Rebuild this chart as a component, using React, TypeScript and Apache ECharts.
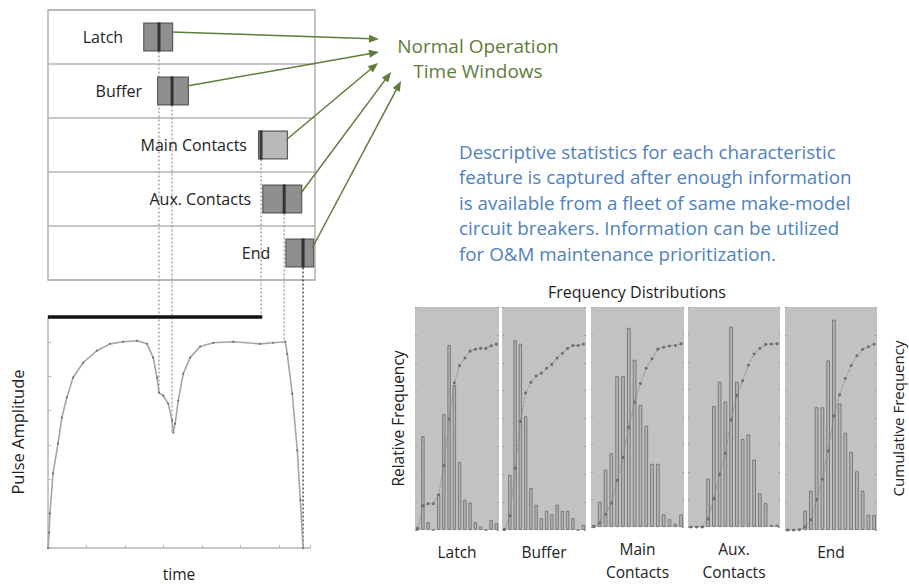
import React, { useEffect, useRef } from 'react';
import * as echarts from 'echarts';

// ---- Time-window table (top left) ----
const features = ['Latch', 'Buffer', 'Main Contacts', 'Aux. Contacts', 'End'];
const windowLow = [2.47, 2.83, 5.45, 5.56, 6.16];
const windowHigh = [3.25, 3.66, 6.23, 6.6, 6.91];
const windowMedian = [2.88, 3.22, 5.53, 6.13, 6.62];
// amplitude at which each dotted connector meets the pulse plot
const connectorEndAmp = [4.5, 3.4, 6.72, 6.0, 0];

// ---- Pulse trace ----
const pulseTime = [0, 0.03, 0.05, 0.13, 0.26, 0.36, 0.49, 0.65, 0.91, 1.27, 1.61, 1.95, 2.31, 2.57, 2.73, 2.83, 2.88, 2.99, 3.12, 3.22, 3.25, 3.3, 3.38, 3.51, 3.69, 3.95, 4.29, 4.81, 5.51, 5.84, 6.16, 6.21, 6.34, 6.47, 6.55, 6.62];
const pulseAmp = [0, 0.45, 1.01, 2.17, 3.04, 3.8, 4.38, 4.96, 5.39, 5.74, 5.94, 6.0, 6.03, 5.94, 5.54, 4.96, 4.52, 4.43, 4.2, 3.71, 3.36, 3.62, 4.29, 5.07, 5.54, 5.86, 5.97, 6.0, 5.94, 5.97, 6.0, 5.65, 4.49, 2.84, 1.39, 0];
const contactBarTime = [0, 5.56];
const contactBarAmp = [6.72, 6.72];

// ---- Frequency distributions ----
const bins = ['1', '2', '3', '4', '5', '6', '7', '8', '9', '10', '11', '12', '13', '14', '15', '16'];
const latchFreq = [1.5, 42, 3.5, 0, 16, 52, 83, 65, 30.5, 13.5, 12.3, 3.5, 1.5, 0, 4.5, 3];
const bufferFreq = [0.8, 24.8, 85, 83.5, 51, 18.8, 11.3, 5.3, 8.6, 7, 11.3, 8.6, 8.6, 5.3, 0, 2.3];
const mainFreq = [0.8, 11.4, 26, 33.5, 68.5, 68.5, 90.5, 76, 55.5, 46, 28.7, 28.7, 5.7, 3.5, 1.5, 5.7];
const auxFreq = [0, 0, 0, 22, 55, 66, 57, 91, 66, 40, 42, 30.6, 15.3, 10.8, 1, 1];
const endFreq = [0, 0, 0.5, 8.6, 17.6, 55, 55, 76, 94.3, 56.7, 43.6, 35, 26.3, 17.6, 6.8, 6.8];
const histNames = ['Latch', 'Buffer', 'Main\nContacts', 'Aux.\nContacts', 'End'];
const histSeries = [latchFreq, bufferFreq, mainFreq, auxFreq, endFreq];

const paragraph = [
  'Descriptive statistics for each characteristic',
  'feature is captured after enough information',
  'is available from a fleet of same make-model',
  'circuit breakers. Information can be utilized',
  'for O&M maintenance prioritization.',
];

const FONT = '"Open Sans", Lato, sans-serif';

export default function App() {
  const ref = useRef<HTMLDivElement>(null);
  useEffect(() => {
    if (!ref.current) return;
    const chart = echarts.init(ref.current, null, { renderer: 'svg' });

    const panels = [
      { left: 415, width: 84 },
      { left: 502, width: 84 },
      { left: 591, width: 93 },
      { left: 688, width: 92 },
      { left: 785, width: 92 },
    ];
    const histTop = 307;
    const histHeight = 223;
    const labelGaps = [20, 15, 11, 11, 15];

    const grids: any[] = [
      { left: 48, top: 10, width: 267, height: 270, show: true, borderColor: '#b3b3b3', borderWidth: 1.5, backgroundColor: 'transparent' },
      { left: 48, top: 316, width: 262, height: 232 },
    ];
    const xAxes: any[] = [
      { gridIndex: 0, type: 'value', min: 0, max: 6.93, show: false },
      {
        gridIndex: 1, type: 'value', min: 0, max: 6.8, interval: 1,
        axisLine: { show: true, lineStyle: { color: '#b5b5b5', width: 1.5 } },
        axisTick: { show: true, inside: true, length: 3, lineStyle: { color: '#b5b5b5' } },
        axisLabel: { show: false }, splitLine: { show: false },
        name: 'time', nameLocation: 'middle', nameGap: 18,
        nameTextStyle: { fontSize: 15.5, color: '#222', fontFamily: FONT },
      },
    ];
    const yAxes: any[] = [
      {
        gridIndex: 0, type: 'category', data: features, inverse: true,
        axisLine: { show: false }, axisTick: { show: false }, axisLabel: { show: false },
        splitLine: { show: true, lineStyle: { color: '#b3b3b3', width: 1.5 } },
      },
      {
        gridIndex: 1, type: 'value', min: 0, max: 6.75, interval: 1,
        axisLine: { show: true, lineStyle: { color: '#b5b5b5', width: 1.5 } },
        axisTick: { show: true, inside: true, length: 3, lineStyle: { color: '#b5b5b5' } },
        axisLabel: { show: false }, splitLine: { show: false },
        name: 'Pulse Amplitude', nameLocation: 'middle', nameGap: 22,
        nameTextStyle: { fontSize: 16.5, color: '#222', fontFamily: FONT },
      },
    ];
    const series: any[] = [
      {
        type: 'bar', xAxisIndex: 0, yAxisIndex: 0, stack: 'w', data: windowLow,
        barWidth: 29, itemStyle: { color: 'rgba(0,0,0,0)' }, silent: true,
      },
      {
        type: 'bar', xAxisIndex: 0, yAxisIndex: 0, stack: 'w',
        data: windowHigh.map((h, i) => ({
          value: +(h - windowLow[i]).toFixed(3),
          itemStyle: { color: i === 2 ? '#b9b9b9' : '#8f8f8f' },
          label: { distance: labelGaps[i] },
        })),
        barWidth: 29,
        itemStyle: { borderColor: '#5a5a5a', borderWidth: 1.2 },
        label: {
          show: true, position: 'left', formatter: (p: any) => p.name,
          fontSize: 16, color: '#222', fontFamily: FONT,
        },
      },
      {
        type: 'scatter', xAxisIndex: 0, yAxisIndex: 0,
        data: windowMedian.map((m, i) => [m, i]),
        symbol: 'rect', symbolSize: [3, 29], itemStyle: { color: '#1a1a1a' }, z: 5,
      },
      {
        type: 'line', xAxisIndex: 1, yAxisIndex: 1,
        data: pulseTime.map((t, i) => [t, pulseAmp[i]]),
        symbol: 'circle', symbolSize: 2, showSymbol: true,
        lineStyle: { color: '#a5a5a5', width: 1.6 }, itemStyle: { color: '#707070' },
      },
      {
        type: 'line', xAxisIndex: 1, yAxisIndex: 1, clip: false,
        data: contactBarTime.map((t, i) => [t, contactBarAmp[i]]),
        symbol: 'none', lineStyle: { color: '#111', width: 3.5 },
      },
    ];

    panels.forEach((p, k) => {
      grids.push({ left: p.left, top: histTop, width: p.width, height: histHeight, show: true, backgroundColor: '#c2c2c2', borderWidth: 0 });
      xAxes.push({
        gridIndex: k + 2, type: 'category', data: bins,
        axisLine: { show: false }, axisTick: { show: false }, axisLabel: { show: false },
        name: histNames[k], nameLocation: 'middle', nameGap: 10,
        nameTextStyle: { fontSize: 15.5, color: '#222', lineHeight: 23, fontFamily: FONT },
      });
      yAxes.push({
        gridIndex: k + 2, type: 'value', min: 0, max: 100, interval: 12.5,
        axisLine: { show: false }, axisLabel: { show: false }, splitLine: { show: false },
        axisTick: { show: true, inside: true, length: 2, lineStyle: { color: '#a0a0a0' } },
        ...(k === 0 ? {
          name: 'Relative Frequency', nameLocation: 'middle', nameGap: 9,
          nameTextStyle: { fontSize: 15.5, color: '#222', fontFamily: FONT },
        } : {}),
      });
      yAxes.push({
        gridIndex: k + 2, type: 'value', position: 'right', min: 0, max: 120, interval: 15,
        axisLine: { show: false }, axisLabel: { show: false }, splitLine: { show: false },
        axisTick: { show: true, inside: true, length: 2, lineStyle: { color: '#a0a0a0' } },
        ...(k === 4 ? {
          name: 'Cumulative Frequency', nameLocation: 'middle', nameGap: 13, nameRotate: 90,
          nameTextStyle: { fontSize: 15, color: '#222', fontFamily: FONT },
        } : {}),
      });
      const freq = histSeries[k];
      const total = freq.reduce((a, b) => a + b, 0);
      let run = 0;
      const cum = freq.map((v) => { run += v; return +(run / total * 100).toFixed(2); });
      series.push({
        type: 'bar', xAxisIndex: k + 2, yAxisIndex: 2 + 2 * k, data: freq,
        barWidth: '62%', itemStyle: { color: '#b4b4b4', borderColor: '#6a6a6a', borderWidth: 0.8 },
      });
      series.push({
        type: 'line', xAxisIndex: k + 2, yAxisIndex: 3 + 2 * k, data: cum,
        symbol: 'circle', symbolSize: 3, showSymbol: true,
        lineStyle: { color: '#8a8a8a', width: 0.8, type: [3, 1] }, itemStyle: { color: '#6e6e6e' }, z: 3,
      });
    });

    const option: any = {
      animation: false,
      backgroundColor: '#ffffff',
      textStyle: { fontFamily: FONT },
      grid: grids, xAxis: xAxes, yAxis: yAxes, series,
    };
    chart.setOption(option);

    // annotations (dotted connectors and arrows) positioned via the axes
    const green = '#5e7d3a';
    const arrowTips = [[379, 39], [379, 52], [378, 63], [391, 72], [401, 81]];
    const gfx: any[] = [];
    features.forEach((_, i) => {
      const top = chart.convertToPixel({ gridIndex: 0 } as any, [windowMedian[i], i]) as number[];
      const bot = chart.convertToPixel({ gridIndex: 1 } as any, [windowMedian[i], connectorEndAmp[i]]) as number[];
      gfx.push({
        type: 'line', z: 0,
        shape: { x1: top[0], y1: top[1] + 14.5, x2: top[0], y2: bot[1] },
        style: { stroke: i === 4 ? '#333' : '#9a9a9a', lineWidth: 1.3, lineDash: [2, 2] },
      });
      const st = chart.convertToPixel({ gridIndex: 0 } as any, [windowHigh[i], i]) as number[];
      const sx = st[0] - 2, sy = st[1] - 5;
      const [tx, ty] = arrowTips[i];
      const dx = tx - sx, dy = ty - sy;
      const len = Math.sqrt(dx * dx + dy * dy);
      const ux = dx / len, uy = dy / len;
      const nx = -uy, ny = ux;
      const L = 10, W = 4;
      gfx.push({
        type: 'line', z: 10,
        shape: { x1: sx, y1: sy, x2: tx - ux * L * 0.7, y2: ty - uy * L * 0.7 },
        style: { stroke: green, lineWidth: 1.5 },
      });
      gfx.push({
        type: 'polygon', z: 10,
        shape: { points: [[tx, ty], [tx - ux * L + nx * W, ty - uy * L + ny * W], [tx - ux * L - nx * W, ty - uy * L - ny * W]] },
        style: { fill: green },
      });
    });
    gfx.push({
      type: 'text', x: 478, y: 58, z: 10,
      style: { text: 'Normal Operation\nTime Windows', fill: green, font: `19px ${FONT}`, align: 'center', verticalAlign: 'middle', lineHeight: 25 },
    });
    gfx.push({
      type: 'text', x: 459, y: 139, z: 10,
      style: { text: paragraph.join('\n'), fill: '#4f81bd', font: `18.8px ${FONT}`, align: 'left', verticalAlign: 'top', lineHeight: 25.5 },
    });
    gfx.push({
      type: 'text', x: 637, y: 292, z: 10,
      style: { text: 'Frequency Distributions', fill: '#222', font: `16px ${FONT}`, align: 'center', verticalAlign: 'middle' },
    });
    chart.setOption({ graphic: gfx });

    return () => chart.dispose();
  }, []);
  return (
    <div
      ref={ref}
      style={{ position: 'fixed', left: 0, top: 0, width: 909, height: 584, background: '#fff' }}
    />
  );
}
